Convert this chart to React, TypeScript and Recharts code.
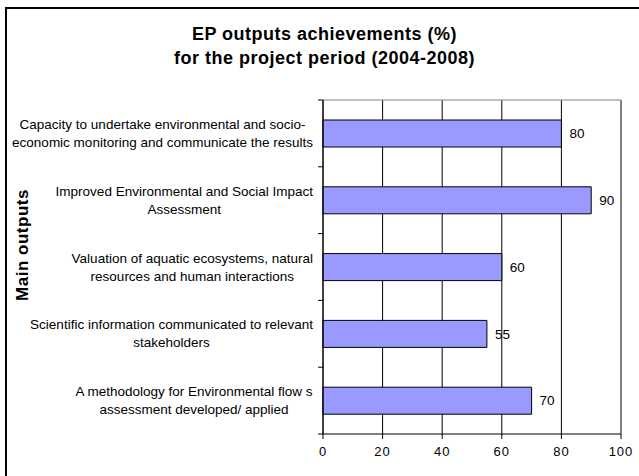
import { BarChart, Bar, XAxis, YAxis, CartesianGrid, LabelList } from "recharts";

const outputs = [
    ["Capacity to undertake environmental and socio-", "economic monitoring and communicate the results"],
    ["Improved Environmental and Social Impact", "Assessment"],
    ["Valuation of aquatic ecosystems, natural", "resources and human interactions"],
    ["Scientific information communicated to relevant", "stakeholders"],
    ["A methodology for Environmental flow s", "assessment developed/ applied"],
];
const achievement = [80, 90, 60, 55, 70];
const xTicks = [0, 20, 40, 60, 80, 100];

const data = outputs.map((lines, i) => ({ name: lines.join(" "), value: achievement[i] }));

const FONT = "Arial, 'Liberation Sans', sans-serif";
const LABEL_SIZE = 13.5;
const W = 639;
const H = 476;
const MARGIN = { top: 100, right: 18, bottom: 0, left: 13 };
const Y_AXIS_W = 310;
const X_AXIS_H = 42;
const BAND = (H - MARGIN.top - MARGIN.bottom - X_AXIS_H) / outputs.length;

let ctx: CanvasRenderingContext2D | null = null;
const measure = (s: string) => {
    if (!ctx) ctx = document.createElement("canvas").getContext("2d");
    if (!ctx) return s.length * 6.5;
    ctx.font = `${LABEL_SIZE}px ${FONT}`;
    return ctx.measureText(s).width;
};

// label block is right-aligned, each line centred inside it; plus the band-edge tick marks
const CategoryTick = (props: any) => {
    const { x, y, payload } = props;
    const idx = data.findIndex((d) => d.name === payload?.value);
    const lines = idx >= 0 ? outputs[idx] : [];
    const w = Math.max(0, ...lines.map(measure));
    const ax = x + 10; // axis line position
    const cx = x - w / 2;
    return (
        <g>
            <line x1={ax - 5} x2={ax} y1={y - BAND / 2} y2={y - BAND / 2} stroke="#000" />
            {idx === outputs.length - 1 && <line x1={ax - 5} x2={ax} y1={y + BAND / 2} y2={y + BAND / 2} stroke="#000" />}
            <text x={cx} y={y} textAnchor="middle" fontSize={LABEL_SIZE} fontFamily={FONT} fill="#000">
                {lines.map((l, i) => (
                    <tspan key={i} x={cx} y={y + (i - (lines.length - 1) / 2) * 18 + 4.5}>
                        {l}
                    </tspan>
                ))}
            </text>
        </g>
    );
};

export default function App() {
    return (
        <div style={{ position: "absolute", left: 0, top: 0, width: W, height: H, background: "#fff", fontFamily: FONT }}>
            <div style={{ position: "absolute", left: 5, top: 7, right: 0, bottom: 0, borderTop: "2px solid #000", borderLeft: "2px solid #000" }} />
            <div
                style={{
                    position: "absolute",
                    left: 0,
                    width: 649,
                    top: 22,
                    textAlign: "center",
                    fontWeight: "bold",
                    fontSize: 18,
                    letterSpacing: 0.5,
                    lineHeight: "24px",
                    color: "#000",
                }}
            >
                EP outputs achievements (%)
                <br />
                for the project period (2004-2008)
            </div>
            <div
                style={{
                    position: "absolute",
                    left: 23,
                    top: 245,
                    transform: "translate(-50%, -50%) rotate(-90deg)",
                    fontWeight: "bold",
                    fontSize: 17,
                    letterSpacing: 0.5,
                    whiteSpace: "nowrap",
                    color: "#000",
                }}
            >
                Main outputs
            </div>
            <div style={{ position: "absolute", left: 0, top: 0 }}>
                <BarChart width={W} height={H} data={data} layout="vertical" margin={MARGIN}>
                    <CartesianGrid horizontal={false} stroke="#000" />
                    <CartesianGrid
                        stroke="#808080"
                        horizontalCoordinatesGenerator={({ offset }: any) => [offset.top]}
                        verticalCoordinatesGenerator={({ offset }: any) => [offset.left + offset.width]}
                    />
                    <XAxis
                        type="number"
                        domain={[0, 100]}
                        ticks={xTicks}
                        height={X_AXIS_H}
                        stroke="#000"
                        tickSize={5}
                        tickMargin={8}
                        tick={{ fill: "#000", fontSize: 13, fontFamily: FONT, letterSpacing: 1 }}
                    />
                    <YAxis
                        type="category"
                        dataKey="name"
                        width={Y_AXIS_W}
                        stroke="#000"
                        tickLine={false}
                        tickSize={0}
                        tickMargin={10}
                        interval={0}
                        tick={<CategoryTick />}
                    />
                    <Bar dataKey="value" fill="#9999FF" stroke="#000" strokeWidth={1} barSize={27} isAnimationActive={false}>
                        <LabelList dataKey="value" position="right" offset={8} fill="#000" fontSize={13.5} fontFamily={FONT} />
                    </Bar>
                </BarChart>
            </div>
        </div>
    );
}
